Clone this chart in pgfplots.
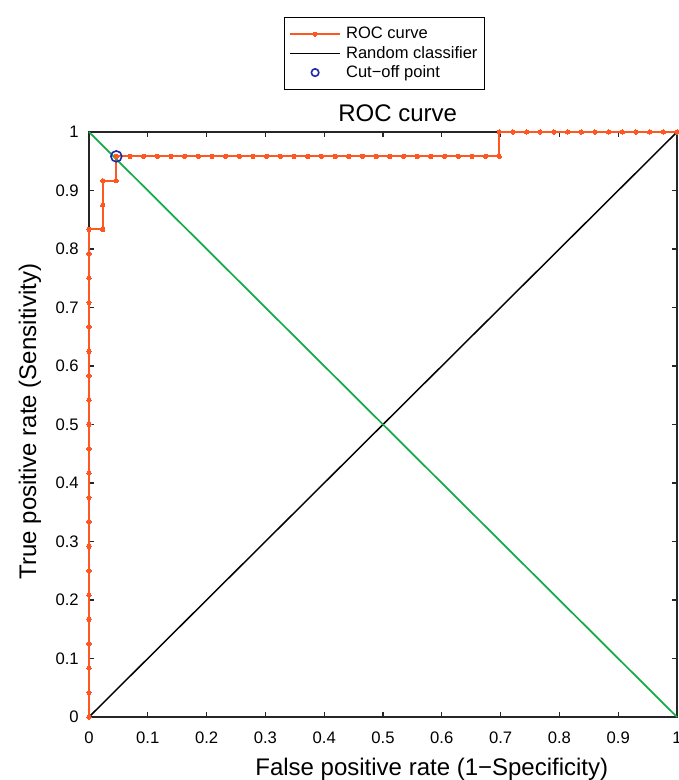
\documentclass[border=0pt]{standalone}
\usepackage{pgfplots}
\pgfplotsset{compat=1.18}
\usepackage{fontspec}
\setmainfont{Liberation Sans}
\definecolor{roc}{RGB}{255,87,34}
\definecolor{grn}{RGB}{20,170,70}
\definecolor{cut}{RGB}{30,40,170}
\pgfplotsset{
  linelegend/.style={legend image code/.code={\draw[mark repeat=2,mark phase=2,##1] plot coordinates {(0pt,0pt) (19pt,0pt) (38pt,0pt)};}},
  cutlegend/.style={legend image code/.code={\draw[##1, mark size=2.8pt] plot coordinates {(19pt,0pt)};}},
}
\begin{document}
\begin{tikzpicture}
\path[use as bounding box] (-66.75pt,-47.25pt) rectangle (441.75pt,537.75pt);
\begin{axis}[
  at={(0pt,0pt)}, anchor=south west,
  scale only axis, width=441pt, height=438.75pt,
  xmin=0, xmax=1, ymin=0, ymax=1,
  clip=false,
  xtick={0,0.1,0.2,0.3,0.4,0.5,0.6,0.7,0.8,0.9,1},
  ytick={0,0.1,0.2,0.3,0.4,0.5,0.6,0.7,0.8,0.9,1},
  /pgf/number format/assume math mode=true,
  /pgf/number format/fixed,
  tick label style={font=\fontsize{12.5}{15}\selectfont},
  xticklabel style={anchor=base, yshift=-19.5pt, inner sep=0pt},
  yticklabel style={anchor=east, xshift=-7.5pt, inner sep=0pt},
  major tick length=3.75pt,
  tick style={black!85, line width=0.8pt},
  axis line style={black!85, line width=0.9pt},
  title={ROC curve},
  title style={font=\fontsize{18}{21}\selectfont, at={(axis description cs:0.525,1.005)}, anchor=base},
  xlabel={False positive rate (1−Specificity)},
  xlabel style={font=\fontsize{18}{21}\selectfont, at={(axis description cs:0.583,-0.09915)}, anchor=base},
  ylabel={True positive rate (Sensitivity)},
  ylabel style={font=\fontsize{18}{21}\selectfont, at={(axis description cs:-0.0901,0.505)}, anchor=base},
  legend cell align=left,
  legend style={at={(axis description cs:0.5025,1.19658)}, anchor=north, draw=black, line width=0.6pt, fill=white,
    font=\fontsize{12.4}{14}\selectfont, column sep=1.5pt, row sep=0pt, inner ysep=5.5pt, inner xsep=3pt},
  linelegend,
]
\addplot[color=roc, line width=1.5pt, mark=*, mark size=1.6pt, mark options={fill=roc, draw=roc, line width=0pt}] coordinates {
(0,0)(0,0.04167)(0,0.08333)(0,0.125)(0,0.16667)(0,0.20833)(0,0.25)(0,0.29167)(0,0.33333)(0,0.375)
(0,0.41667)(0,0.45833)(0,0.5)(0,0.54167)(0,0.58333)(0,0.625)(0,0.66667)(0,0.70833)(0,0.75)(0,0.79167)
(0,0.83333)(0.02326,0.83333)(0.02326,0.875)(0.02326,0.91667)(0.04651,0.91667)(0.04651,0.95833)
(0.06977,0.95833)(0.09302,0.95833)(0.11628,0.95833)(0.13953,0.95833)(0.16279,0.95833)(0.18605,0.95833)
(0.20930,0.95833)(0.23256,0.95833)(0.25581,0.95833)(0.27907,0.95833)(0.30233,0.95833)(0.32558,0.95833)
(0.34884,0.95833)(0.37209,0.95833)(0.39535,0.95833)(0.41860,0.95833)(0.44186,0.95833)(0.46512,0.95833)
(0.48837,0.95833)(0.51163,0.95833)(0.53488,0.95833)(0.55814,0.95833)(0.58140,0.95833)(0.60465,0.95833)
(0.62791,0.95833)(0.65116,0.95833)(0.67442,0.95833)(0.69767,0.95833)
(0.69767,1)(0.72093,1)(0.74419,1)(0.76744,1)(0.79070,1)(0.81395,1)(0.83721,1)(0.86047,1)(0.88372,1)
(0.90698,1)(0.93023,1)(0.95349,1)(0.97674,1)(1,1)
};
\addlegendentry{ROC curve}
\addplot[black, line width=1.1pt] coordinates {(0,0)(1,1)};
\addlegendentry{Random classifier}
\addplot[only marks, mark=o, mark size=4.1pt, mark options={draw=cut, line width=1.2pt}, cutlegend] coordinates {(0.04651,0.95833)};
\addlegendentry{Cut−off point}
\addplot[grn, line width=1.3pt, forget plot] coordinates {(0,1)(1,0)};
\end{axis}
\end{tikzpicture}
\end{document}
